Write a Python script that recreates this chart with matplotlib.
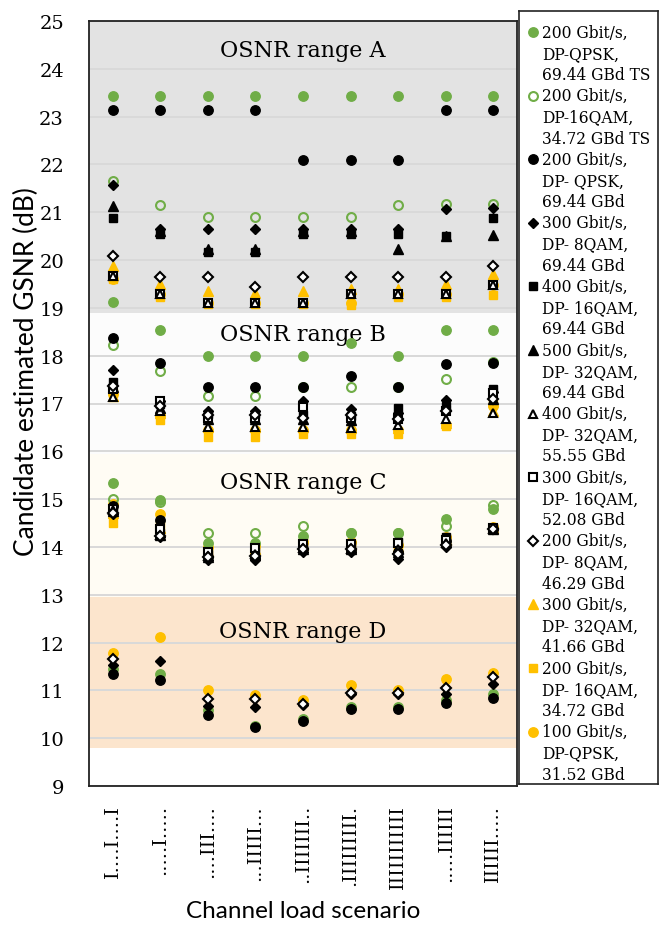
import numpy as np
import matplotlib
matplotlib.use("Agg")
import matplotlib.pyplot as plt
from matplotlib import font_manager

# channel load scenarios (x axis), I = loaded slot, . = empty slot
scenarios = ["I....I....I", ".....I.....", "....III....", "...IIIII...", "..IIIIIII..",
             ".IIIIIIIII.", "IIIIIIIIIII", ".....IIIIII", "IIIIII....."]

# OSNR ranges (background bands)
range_names = ["OSNR range A", "OSNR range B", "OSNR range C", "OSNR range D"]
range_lo = [18.9, 15.95, 12.95, 9.8]
range_hi = [25.0, 18.9, 15.95, 12.95]
range_label_y = [24.4, 18.45, 15.36, 12.24]
range_colors = ["#E3E3E3", "#FCFCFC", "#FFFCF4", "#FCE5CD"]

nan = np.nan
# each series: rows = OSNR range A, B, C, D ; columns = scenarios
qpsk200_ts = [[23.43, 23.43, 23.43, 23.43, 23.43, 23.43, 23.43, 23.43, 23.43],
              [19.13, 18.54, 17.99, 17.99, 17.99, 18.26, 17.99, 18.54, 18.54],
              [15.33, 14.98, 14.09, 14.09, 14.23, 14.30, 14.30, 14.58, 14.79],
              [11.44, 11.34, 10.60, 10.26, 10.40, 10.66, 10.66, 10.80, 10.92]]
qam16_200_ts = [[21.66, 21.16, 20.91, 20.91, 20.91, 20.91, 21.16, 21.17, 21.17],
                [18.22, 17.68, 17.16, 17.16, 17.34, 17.34, 17.34, 17.51, 17.86],
                [15.00, 14.93, 14.30, 14.30, 14.44, 14.30, 14.30, 14.43, 14.88],
                [nan, nan, nan, nan, nan, nan, nan, nan, nan]]
qpsk200 = [[23.14, 23.14, 23.14, 23.14, 22.09, 22.09, 22.09, 23.14, 23.14],
           [18.38, 17.84, 17.34, 17.34, 17.34, 17.58, 17.34, 17.82, 17.84],
           [14.86, 14.56, 13.78, 13.78, 13.95, 13.93, 13.90, 14.12, 14.37],
           [11.34, 11.22, 10.49, 10.24, 10.36, 10.62, 10.62, 10.73, 10.85]]
qam8_300 = [[21.57, 20.65, 20.65, 20.65, 20.65, 20.65, 20.65, 21.07, 21.08],
            [17.70, 17.05, 16.85, 16.85, 17.06, 16.88, 16.80, 17.08, 17.25],
            [14.69, 14.20, 13.72, 13.72, 13.90, 13.90, 13.75, 14.00, 14.37],
            [11.53, 11.62, 10.68, 10.66, 10.69, 10.92, 10.92, 10.92, 11.13]]
qam16_400 = [[20.88, 20.54, 20.17, 20.17, 20.54, 20.54, 20.54, 20.51, 20.88],
             [17.45, 17.00, 16.78, 16.78, 16.75, 16.74, 16.90, 16.95, 17.30],
             [14.80, 14.30, 13.85, 13.90, 14.00, 14.05, 14.10, 14.20, 14.40],
             [nan, nan, nan, nan, nan, nan, nan, nan, nan]]
qam32_500 = [[21.14, 20.60, 20.23, 20.23, 20.60, 20.60, 20.23, 20.51, 20.52],
             [17.35, 16.90, 16.67, 16.67, 16.67, 16.65, 16.75, 16.95, 17.10],
             [14.75, 14.25, 13.80, 13.85, 13.95, 13.95, 13.90, 14.10, 14.38],
             [nan, nan, nan, nan, nan, nan, nan, nan, nan]]
qam32_400 = [[19.67, 19.29, 19.10, 19.10, 19.10, 19.29, 19.29, 19.29, 19.48],
             [17.13, 16.85, 16.50, 16.50, 16.50, 16.48, 16.55, 16.67, 16.81],
             [14.78, 14.25, 13.82, 13.85, 13.98, 13.95, 13.95, 14.08, 14.38],
             [nan, nan, nan, nan, nan, nan, nan, nan, nan]]
qam16_300 = [[19.67, 19.29, 19.10, 19.10, 19.10, 19.29, 19.29, 19.29, 19.48],
             [17.30, 17.05, 16.70, 16.70, 16.92, 16.70, 16.67, 16.85, 17.23],
             [14.80, 14.37, 13.90, 13.98, 14.07, 14.07, 14.09, 14.15, 14.40],
             [nan, nan, nan, nan, nan, nan, nan, nan, nan]]
qam8_200 = [[20.09, 19.65, 19.65, 19.44, 19.65, 19.65, 19.65, 19.65, 19.87],
            [17.36, 16.95, 16.75, 16.75, 16.70, 16.75, 16.67, 16.85, 17.09],
            [14.70, 14.22, 13.80, 13.82, 13.95, 13.95, 13.85, 14.05, 14.37],
            [11.65, nan, 10.83, 10.83, 10.72, 10.95, 10.95, 11.06, 11.27]]
qam32_300 = [[19.88, 19.50, 19.36, 19.32, 19.36, 19.39, 19.39, 19.50, 19.70],
             [17.16, 16.80, 16.50, 16.50, 16.50, 16.48, 16.48, 16.60, 16.85],
             [14.72, 14.40, 13.90, 13.95, 14.05, 14.05, 14.00, 14.15, 14.40],
             [nan, nan, nan, nan, nan, nan, nan, nan, nan]]
qam16_200 = [[19.60, 19.22, 19.08, 19.08, 19.08, 19.07, 19.22, 19.22, 19.26],
             [17.23, 16.66, 16.29, 16.29, 16.36, 16.36, 16.36, 16.53, 17.02],
             [14.51, 14.45, 13.92, 14.00, 14.10, 14.05, 14.00, 14.15, 14.40],
             [nan, nan, nan, nan, nan, nan, nan, nan, nan]]
qpsk100 = [[19.60, 19.29, 19.10, 19.10, 19.10, 19.10, 19.29, 19.29, 19.48],
           [17.20, 16.75, 16.45, 16.45, 16.45, 16.45, 16.45, 16.55, 16.95],
           [14.90, 14.69, 13.99, 14.02, 14.10, 14.10, 14.05, 14.20, 14.42],
           [11.78, 12.12, 11.01, 10.90, 10.80, 11.12, 11.01, 11.23, 11.36]]

labels = ["200 Gbit/s,\nDP-QPSK,\n69.44 GBd TS", "200 Gbit/s,\nDP-16QAM,\n34.72 GBd TS",
          "200 Gbit/s,\nDP- QPSK,\n69.44 GBd", "300 Gbit/s,\nDP- 8QAM,\n69.44 GBd",
          "400 Gbit/s,\nDP- 16QAM,\n69.44 GBd", "500 Gbit/s,\nDP- 32QAM,\n69.44 GBd",
          "400 Gbit/s,\nDP- 32QAM,\n55.55 GBd", "300 Gbit/s,\nDP- 16QAM,\n52.08 GBd",
          "200 Gbit/s,\nDP- 8QAM,\n46.29 GBd", "300 Gbit/s,\nDP- 32QAM,\n41.66 GBd",
          "200 Gbit/s,\nDP- 16QAM,\n34.72 GBd", "100 Gbit/s,\nDP-QPSK,\n31.52 GBd"]
series = [qpsk200_ts, qam16_200_ts, qpsk200, qam8_300, qam16_400, qam32_500,
          qam32_400, qam16_300, qam8_200, qam32_300, qam16_200, qpsk100]

green, yellow = "#70AD47", "#FFC000"
styles = [
    dict(marker="o", mfc=green, mec=green, ms=6.8, zorder=3.3),
    dict(marker="o", mfc="none", mec=green, ms=6.4, mew=1.5, zorder=3.4),
    dict(marker="o", mfc="k", mec="k", ms=6.8, zorder=3.7),
    dict(marker="D", mfc="k", mec="k", ms=5.2, zorder=3.8),
    dict(marker="s", mfc="k", mec="k", ms=6.0, zorder=3.6),
    dict(marker="^", mfc="k", mec="k", ms=6.8, zorder=3.5),
    dict(marker="^", mfc="white", mec="k", ms=6.4, mew=1.5, zorder=4.0),
    dict(marker="s", mfc="white", mec="k", ms=5.8, mew=1.5, zorder=3.9),
    dict(marker="D", mfc="white", mec="k", ms=4.8, mew=1.5, zorder=4.1),
    dict(marker="^", mfc=yellow, mec=yellow, ms=6.8, zorder=3.2),
    dict(marker="s", mfc=yellow, mec=yellow, ms=6.0, zorder=3.1),
    dict(marker="o", mfc=yellow, mec=yellow, ms=6.8, zorder=3.0),
]


def pick(*names):
    for n in names:
        try:
            font_manager.findfont(n, fallback_to_default=False)
            return n
        except ValueError:
            pass
    return "DejaVu Sans"


serif = "DejaVu Serif"
sans = pick("Lato", "Liberation Sans")
narrow = pick("Liberation Sans Narrow", "Lato")

fig = plt.figure(figsize=(6.62, 9.29), dpi=100)
ax = fig.add_axes([89 / 662, 1 - 787 / 929, 428 / 662, 765 / 929])

x = np.arange(1, len(scenarios) + 1)
for lo, hi, c, name, ly in zip(range_lo, range_hi, range_colors, range_names, range_label_y):
    ax.axhspan(lo, hi, color=c, lw=0, zorder=0.8)
    ax.text(0.5, ly, name, transform=ax.get_yaxis_transform(), ha="center", va="center",
            fontsize=16, family=serif, zorder=2)

for vals, st in zip(series, styles):
    arr = np.array(vals, dtype=float)
    ax.plot(np.tile(x, arr.shape[0]), arr.ravel(), ls="none", **st)

ax.set_xlim(0.5, len(scenarios) + 0.5)
ax.set_ylim(9, 25)
ax.set_yticks(range(9, 26))
ax.set_xticks(x)
ax.set_xticklabels(scenarios, rotation=90, family=serif, fontsize=14)
ax.tick_params(axis="y", length=0, pad=18, labelsize=14)
ax.tick_params(axis="x", length=0, pad=13)
for t in ax.get_yticklabels():
    t.set_family(serif)
ax.yaxis.grid(True, color="#D9D9D9", lw=1.4)
ax.set_axisbelow("line")
for s in ax.spines.values():
    s.set_color("#222222")
    s.set_linewidth(1.3)

ax.set_xlabel("Channel load scenario", family=sans, fontsize=17.5)
ax.xaxis.set_label_coords(0.5, (787 - 912) / 765)
ax.xaxis.label.set_va("center")
ax.set_ylabel("Candidate estimated GSNR (dB)", family=narrow, fontsize=19)
ax.yaxis.set_label_coords(-(89 - 26) / 428, (787 - 372) / 765)
ax.yaxis.label.set_va("center")

# legend box on the right
lg = fig.add_axes([519 / 662, 1 - 785 / 929, 139 / 662, 773 / 929])
lg.set_xlim(0, 139)
lg.set_ylim(773, 0)
lg.set_xticks([])
lg.set_yticks([])
for s in lg.spines.values():
    s.set_color("#222222")
    s.set_linewidth(1.2)
pitch = 21.2
for i, (lab, st) in enumerate(zip(labels, styles)):
    y0 = 21 + 3 * i * pitch
    st2 = {k: v for k, v in st.items() if k != "zorder"}
    lg.plot([14], [y0], ls="none", **st2)
    for j, line in enumerate(lab.split("\n")):
        lg.text(23, y0 + j * pitch, line, ha="left", va="center", family=serif, fontsize=11.2)

fig.savefig("out.png", dpi=100)
